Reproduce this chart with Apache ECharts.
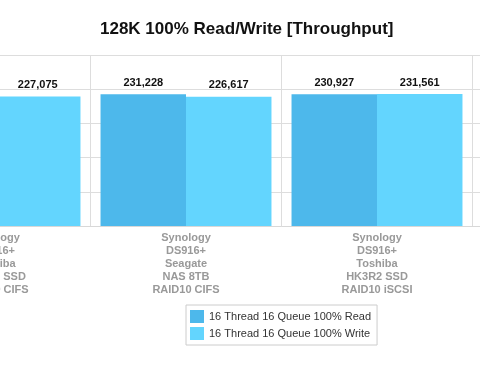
<!DOCTYPE html>
<html><head><meta charset="utf-8">
<style>html,body{margin:0;padding:0;background:#fff;overflow:hidden;width:480px;height:378px;position:relative}#c{position:absolute;left:-110px;top:0;width:800px;height:378px}</style>
<script src="https://cdn.jsdelivr.net/npm/echarts@6/dist/echarts.min.js"></script>
</head><body><div id="c"></div>
<script>
const categories = [
  'Synology\nDS916+\nToshiba\nHK3R2 SSD\nRAID10 CIFS',
  'Synology\nDS916+\nSeagate\nNAS 8TB\nRAID10 CIFS',
  'Synology\nDS916+\nToshiba\nHK3R2 SSD\nRAID10 iSCSI',
  ''
];
const readValues = [null, 231228, 230927, null];
const writeValues = [227075, 226617, 231561, null];
const seriesNames = ['16 Thread 16 Queue 100% Read', '16 Thread 16 Queue 100% Write'];
const yTicks = [0, 60000, 120000, 180000, 240000, 300000];

const OFF = 110; // container offset to the left of the visible page
const chart = echarts.init(document.getElementById('c'));
const fmt = v => v.value == null ? '' : v.value.toLocaleString('en-US');
const labelCfg = {
  show: true, position: 'top', distance: 6, formatter: fmt,
  color: '#111', fontWeight: 'bold', fontSize: 11, fontFamily: 'Liberation Sans'
};
chart.setOption({
  animation: false,
  title: {
    text: '128K 100% Read/Write [Throughput]',
    left: 100 + OFF, top: 21, padding: 0,
    textStyle: { fontFamily: 'Liberation Sans', fontWeight: 'bold', fontSize: 17, color: '#111' }
  },
  legend: {
    orient: 'vertical', left: 186 + OFF, top: 305,
    data: seriesNames, icon: 'rect',
    itemWidth: 14, itemHeight: 13, itemGap: 4,
    padding: [5, 6, 5, 4],
    borderColor: '#cccccc', borderWidth: 1,
    textStyle: { fontFamily: 'Liberation Sans', fontSize: 11, color: '#333' }
  },
  grid: { left: OFF - 100.5, right: 800 - (663.5 + OFF), top: 55, bottom: 152 },
  xAxis: {
    type: 'category', data: categories,
    axisLine: { lineStyle: { color: '#d8d8d8' } },
    axisTick: { show: false },
    splitLine: { show: true, lineStyle: { color: '#dddddd' } },
    axisLabel: {
      interval: 0, margin: 5, lineHeight: 13,
      fontFamily: 'Liberation Sans', fontWeight: 'bold', fontSize: 11, color: '#999999'
    }
  },
  yAxis: {
    type: 'value', min: yTicks[0], max: yTicks[yTicks.length - 1], interval: yTicks[1] - yTicks[0],
    axisLabel: { show: false }, axisLine: { show: false }, axisTick: { show: false },
    splitLine: { lineStyle: { color: '#dddddd' } }
  },
  series: [
    { name: seriesNames[0], type: 'bar', data: readValues, barGap: '0%', barCategoryGap: '10.5%',
      itemStyle: { color: '#4db8eb' }, label: labelCfg },
    { name: seriesNames[1], type: 'bar', data: writeValues, barGap: '0%', barCategoryGap: '10.5%',
      itemStyle: { color: '#63d5fe' }, label: labelCfg }
  ]
});
</script></body></html>
